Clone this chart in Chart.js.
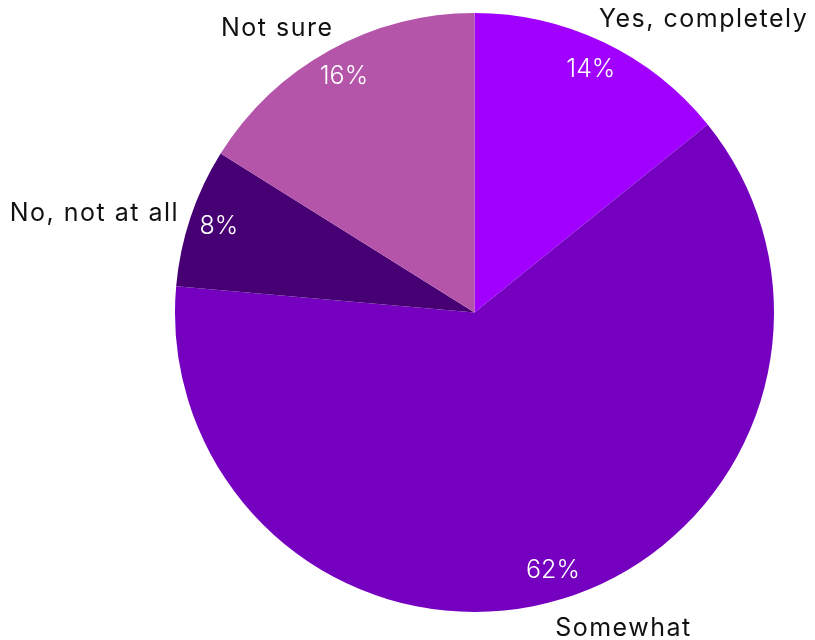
<!DOCTYPE html>
<html>
<head>
<meta charset="utf-8">
<script src="https://cdn.jsdelivr.net/npm/chart.js@4/dist/chart.umd.min.js"></script>
<style>
  html, body { margin: 0; padding: 0; background: #ffffff; }
  #wrap { width: 815px; height: 640px; position: relative; }
</style>
</head>
<body>
<div id="wrap"><canvas id="c" width="815" height="640"></canvas></div>
<script>
const categories = ["Yes, completely", "Somewhat", "No, not at all", "Not sure"];
const values = [14.2, 62.2, 7.5, 16.1];
const percentLabels = ["14%", "62%", "8%", "16%"];
const colors = ["#A100FF", "#7500C0", "#460073", "#B455AA"];

const FONT = "Inter, 'Noto Sans', sans-serif";

const labelPlugin = {
  id: 'pieLabels',
  afterDatasetsDraw(chart) {
    const ctx = chart.ctx;
    const meta = chart.getDatasetMeta(0);
    ctx.save();
    meta.data.forEach((arc, i) => {
      const mid = (arc.startAngle + arc.endAngle) / 2;
      const R = arc.outerRadius;
      const cos = Math.cos(mid), sin = Math.sin(mid);
      // inner percent label
      ctx.font = "300 25px " + FONT;
      ctx.letterSpacing = "0px";
      ctx.fillStyle = "#ffffff";
      ctx.textAlign = "center";
      ctx.textBaseline = "middle";
      ctx.fillText(percentLabels[i], arc.x + cos * R * 0.9, arc.y + sin * R * 0.9);
      // outer category label
      ctx.font = "400 25px " + FONT;
      ctx.letterSpacing = "1.5px";
      ctx.fillStyle = "#111111";
      const r = R + 12;
      let ax = arc.x + cos * r, ay = arc.y + sin * r;
      ctx.textAlign = cos >= 0 ? "left" : "right";
      if (Math.abs(cos) < 0.5) ax -= Math.sign(cos) * 10;
      if (Math.abs(sin) < 0.5) {
        ctx.textBaseline = "middle";
      } else if (sin < 0) {
        ctx.textBaseline = "alphabetic";
        ay -= 4;
      } else {
        ctx.textBaseline = "top";
        ay += 5;
      }
      ctx.fillText(categories[i], ax, ay);
    });
    ctx.restore();
  }
};

new Chart(document.getElementById('c'), {
  type: 'pie',
  data: {
    labels: categories,
    datasets: [{
      data: values,
      backgroundColor: colors,
      borderWidth: 0,
      hoverOffset: 0
    }]
  },
  options: {
    responsive: false,
    animation: false,
    layout: { padding: { left: 175, right: 41, top: 13, bottom: 28 } },
    plugins: {
      legend: { display: false },
      tooltip: { enabled: false }
    }
  },
  plugins: [labelPlugin]
});
</script>
</body>
</html>
